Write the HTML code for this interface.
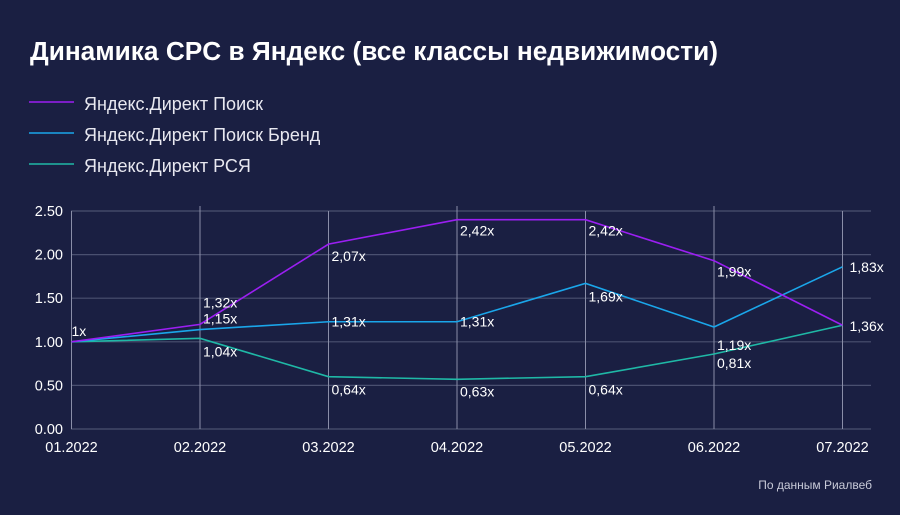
<!DOCTYPE html>
<html><head><meta charset="utf-8"><style>
body{margin:0;background:#1a1f42;}
svg{display:block;font-family:"Liberation Sans","DejaVu Sans",sans-serif;}
</style></head><body>
<svg id="c" width="900" height="515">
<rect width="900" height="515" fill="#1a1f42"/>
<text x="30" y="60" fill="#fff" font-size="25.5" font-weight="bold" textLength="688" lengthAdjust="spacingAndGlyphs">Динамика CPC в Яндекс (все классы недвижимости)</text>
<g>
<g><line x1="29" y1="102" x2="74" y2="102" stroke="#9b1ff2" stroke-width="1.5"/><text x="84" y="110" fill="#e8e8f0" font-size="18">Яндекс.Директ Поиск</text></g>
<g><line x1="29" y1="133" x2="74" y2="133" stroke="#1aa6ea" stroke-width="1.5"/><text x="84" y="141" fill="#e8e8f0" font-size="18">Яндекс.Директ Поиск Бренд</text></g>
<g><line x1="29" y1="164" x2="74" y2="164" stroke="#1fb8a6" stroke-width="1.5"/><text x="84" y="172" fill="#e8e8f0" font-size="18">Яндекс.Директ РСЯ</text></g>
</g>
<g id="grid"></g><g id="series"></g><g id="labels"></g>
<text x="872" y="489" fill="#c8cad8" font-size="12" text-anchor="end">По данным Риалвеб</text>
</svg>
<script>
const categories=["01.2022","02.2022","03.2022","04.2022","05.2022","06.2022","07.2022"];
const yTicks=[0,0.5,1,1.5,2,2.5];
const yTickLabels=["0.00","0.50","1.00","1.50","2.00","2.50"];
const poisk=[1.0,1.20,2.12,2.40,2.40,1.93,1.19];
const brand=[1.0,1.14,1.23,1.23,1.67,1.17,1.86];
const rsya=[1.0,1.04,0.60,0.57,0.60,0.86,1.19];
const poiskLabels=["1x","1,32x","2,07x","2,42x","2,42x","1,99x","1,36x"];
const brandLabels=["","1,15x","1,31x","1,31x","1,69x","1,19x","1,83x"];
const rsyaLabels=["","1,04x","0,64x","0,63x","0,64x","0,81x",""];
const NS="http://www.w3.org/2000/svg";
const x=i=>71.5+i*(842.5-71.5)/(categories.length-1);
const y=v=>429-v*(429-211)/2.5;
function mk(t,a,p){const e=document.createElementNS(NS,t);for(const k in a)e.setAttribute(k,a[k]);p.appendChild(e);return e;}
const g=document.getElementById('grid');
yTicks.forEach((v,i)=>{
 const l=mk('line',{x1:71,x2:871,y1:y(v),y2:y(v),stroke:'#4a5070','stroke-width':1.2},g);
 
 
 const t=mk('text',{x:63,y:y(v)+5,fill:'#fff','font-size':14.5,'text-anchor':'end'},g);
 t.textContent=yTickLabels[i];
 
 
});
categories.forEach((c,i)=>{
 const l=mk('line',{x1:x(i),x2:x(i),y1:i%2?206:211,y2:429,stroke:'#8a8ea8','stroke-width':1},g);
 
 
 const t=mk('text',{x:x(i),y:452,fill:'#fff','font-size':14.5,'text-anchor':'middle'},g);
 t.textContent=c;
 
 
});
const s=document.getElementById('series');
function line(vals,col,name){
 const p=mk('polyline',{points:vals.map((v,i)=>x(i)+','+y(v)).join(' '),fill:'none',stroke:col,'stroke-width':1.6},s);
 
 
}
line(rsya,'#1fb8a6','series-rsya');
line(brand,'#1aa6ea','series-brand');
line(poisk,'#9b1ff2','series-poisk');
const L=document.getElementById('labels');
function labels(vals,txt,offs,name){
 vals.forEach((v,i)=>{ if(!txt[i])return;
  const o=offs[i];
  const t=mk('text',{x:x(i)+o[0],y:y(v)+o[1],fill:'#fff','font-size':14},L);
  t.textContent=txt[i];
  
  
 });
}
labels(poisk,poiskLabels,[[0,-6],[3,-17],[3,17],[3,16],[3,16],[3,16],[7,6]],'label-poisk');
labels(brand,brandLabels,[[0,0],[3,-6],[3,5],[3,5],[3,18],[3,23],[7,5]],'label-brand');
labels(rsya,rsyaLabels,[[0,0],[3,18],[3,18],[3,17],[3,18],[3,14],[0,0]],'label-rsya');
</script>
</body></html>
